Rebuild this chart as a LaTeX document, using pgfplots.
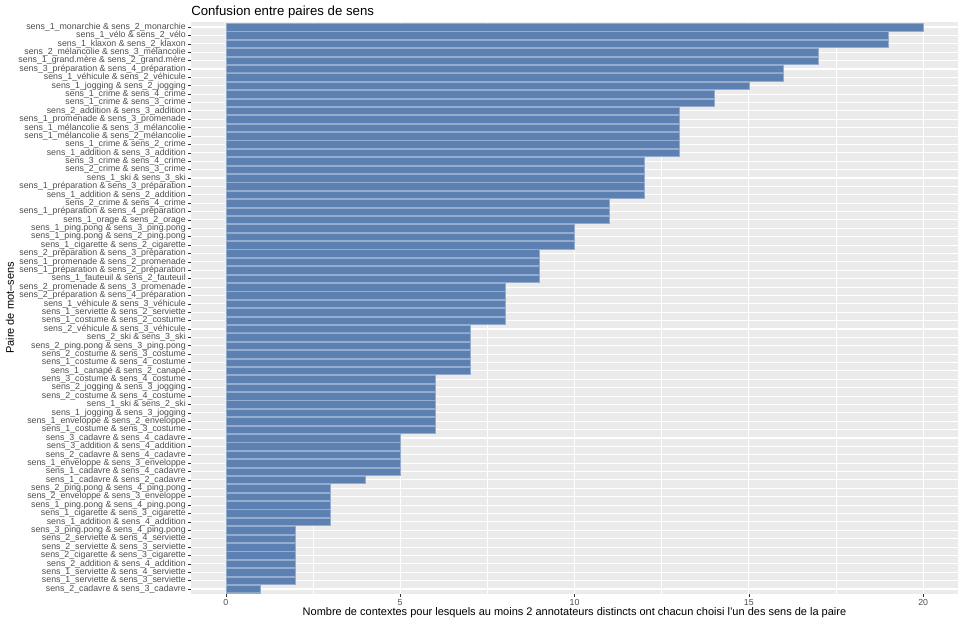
\documentclass[border=0pt]{standalone}
\usepackage{pgfplots}
\pgfplotsset{compat=1.18}
\usepackage{fontspec}
\setmainfont{Liberation Sans}
\definecolor{barfill}{RGB}{92,128,178}
\definecolor{barline}{RGB}{150,172,205}
\definecolor{panelbg}{RGB}{235,235,235}
\definecolor{grey30}{RGB}{77,77,77}
\definecolor{grey20}{RGB}{51,51,51}
\begin{document}
\begin{tikzpicture}[x=0.75pt,y=0.75pt]
\useasboundingbox (0,0) rectangle (963,624);
\begin{axis}[
  at={(143.25pt,22.5pt)}, anchor=south west,
  scale only axis, width=575.25pt, height=429pt,
  xmin=-1, xmax=21, ymin=0.4, ymax=68.6,
  y dir=reverse,
  axis background/.style={fill=panelbg},
  axis line style={draw=none},
  xtick={0,5,10,15,20},
  xticklabels={0,5,10,15,20},
  minor xtick={2.5,7.5,12.5,17.5},
  ytick={1,...,68},
  yticklabels={
sens\_1\_monarchie \& sens\_2\_monarchie,
sens\_1\_vélo \& sens\_2\_vélo,
sens\_1\_klaxon \& sens\_2\_klaxon,
sens\_2\_mélancolie \& sens\_3\_mélancolie,
sens\_1\_grand.mère \& sens\_2\_grand.mère,
sens\_3\_préparation \& sens\_4\_préparation,
sens\_1\_véhicule \& sens\_2\_véhicule,
sens\_1\_jogging \& sens\_2\_jogging,
sens\_1\_crime \& sens\_4\_crime,
sens\_1\_crime \& sens\_3\_crime,
sens\_2\_addition \& sens\_3\_addition,
sens\_1\_promenade \& sens\_3\_promenade,
sens\_1\_mélancolie \& sens\_3\_mélancolie,
sens\_1\_mélancolie \& sens\_2\_mélancolie,
sens\_1\_crime \& sens\_2\_crime,
sens\_1\_addition \& sens\_3\_addition,
sens\_3\_crime \& sens\_4\_crime,
sens\_2\_crime \& sens\_3\_crime,
sens\_1\_ski \& sens\_3\_ski,
sens\_1\_préparation \& sens\_3\_préparation,
sens\_1\_addition \& sens\_2\_addition,
sens\_2\_crime \& sens\_4\_crime,
sens\_1\_préparation \& sens\_4\_préparation,
sens\_1\_orage \& sens\_2\_orage,
sens\_1\_ping.pong \& sens\_3\_ping.pong,
sens\_1\_ping.pong \& sens\_2\_ping.pong,
sens\_1\_cigarette \& sens\_2\_cigarette,
sens\_2\_préparation \& sens\_3\_préparation,
sens\_1\_promenade \& sens\_2\_promenade,
sens\_1\_préparation \& sens\_2\_préparation,
sens\_1\_fauteuil \& sens\_2\_fauteuil,
sens\_2\_promenade \& sens\_3\_promenade,
sens\_2\_préparation \& sens\_4\_préparation,
sens\_1\_véhicule \& sens\_3\_véhicule,
sens\_1\_serviette \& sens\_2\_serviette,
sens\_1\_costume \& sens\_2\_costume,
sens\_2\_véhicule \& sens\_3\_véhicule,
sens\_2\_ski \& sens\_3\_ski,
sens\_2\_ping.pong \& sens\_3\_ping.pong,
sens\_2\_costume \& sens\_3\_costume,
sens\_1\_costume \& sens\_4\_costume,
sens\_1\_canapé \& sens\_2\_canapé,
sens\_3\_costume \& sens\_4\_costume,
sens\_2\_jogging \& sens\_3\_jogging,
sens\_2\_costume \& sens\_4\_costume,
sens\_1\_ski \& sens\_2\_ski,
sens\_1\_jogging \& sens\_3\_jogging,
sens\_1\_enveloppe \& sens\_2\_enveloppe,
sens\_1\_costume \& sens\_3\_costume,
sens\_3\_cadavre \& sens\_4\_cadavre,
sens\_3\_addition \& sens\_4\_addition,
sens\_2\_cadavre \& sens\_4\_cadavre,
sens\_1\_enveloppe \& sens\_3\_enveloppe,
sens\_1\_cadavre \& sens\_4\_cadavre,
sens\_1\_cadavre \& sens\_2\_cadavre,
sens\_2\_ping.pong \& sens\_4\_ping.pong,
sens\_2\_enveloppe \& sens\_3\_enveloppe,
sens\_1\_ping.pong \& sens\_4\_ping.pong,
sens\_1\_cigarette \& sens\_3\_cigarette,
sens\_1\_addition \& sens\_4\_addition,
sens\_3\_ping.pong \& sens\_4\_ping.pong,
sens\_2\_serviette \& sens\_4\_serviette,
sens\_2\_serviette \& sens\_3\_serviette,
sens\_2\_cigarette \& sens\_3\_cigarette,
sens\_2\_addition \& sens\_4\_addition,
sens\_1\_serviette \& sens\_4\_serviette,
sens\_1\_serviette \& sens\_3\_serviette,
sens\_2\_cadavre \& sens\_3\_cadavre},
  xmajorgrids, xminorgrids, ymajorgrids,
  major grid style={draw=white, line width=0.8pt},
  minor grid style={draw=white, line width=0.4pt},
  tick pos=left, tick align=outside,
  major tick length=2.1pt, minor tick length=0pt,
  tick style={draw=grey20, line width=0.4pt},
  yticklabel style={font=\fontsize{6.6}{7}\selectfont, text=grey30, inner sep=1.6pt},
  xticklabel style={font=\fontsize{6.6}{7}\selectfont, text=grey30, inner sep=2pt},
  clip=false,
]
\addplot[xbar, bar width=0.9, fill=barfill, draw=barline, line width=0.35pt] coordinates {
(20,1) (19,2) (19,3) (17,4) (17,5) (16,6) (16,7) (15,8) (14,9) (14,10)
(13,11) (13,12) (13,13) (13,14) (13,15) (13,16)
(12,17) (12,18) (12,19) (12,20) (12,21)
(11,22) (11,23) (11,24)
(10,25) (10,26) (10,27)
(9,28) (9,29) (9,30) (9,31)
(8,32) (8,33) (8,34) (8,35) (8,36)
(7,37) (7,38) (7,39) (7,40) (7,41) (7,42)
(6,43) (6,44) (6,45) (6,46) (6,47) (6,48) (6,49)
(5,50) (5,51) (5,52) (5,53) (5,54)
(4,55)
(3,56) (3,57) (3,58) (3,59) (3,60)
(2,61) (2,62) (2,63) (2,64) (2,65) (2,66) (2,67)
(1,68)};
\end{axis}
\node[anchor=west, font=\fontsize{9.9}{11}\selectfont, inner sep=0] at (191,612) {Confusion entre paires de sens};
\node[font=\fontsize{8.25}{9}\selectfont, inner sep=0] at (574.5,11) {Nombre de contextes pour lesquels au moins 2 annotateurs distincts ont chacun choisi l'un des sens de la paire};
\node[rotate=90, font=\fontsize{8.25}{9}\selectfont, inner sep=0] at (10,316) {Paire de mot–sens};
\end{tikzpicture}
\end{document}
